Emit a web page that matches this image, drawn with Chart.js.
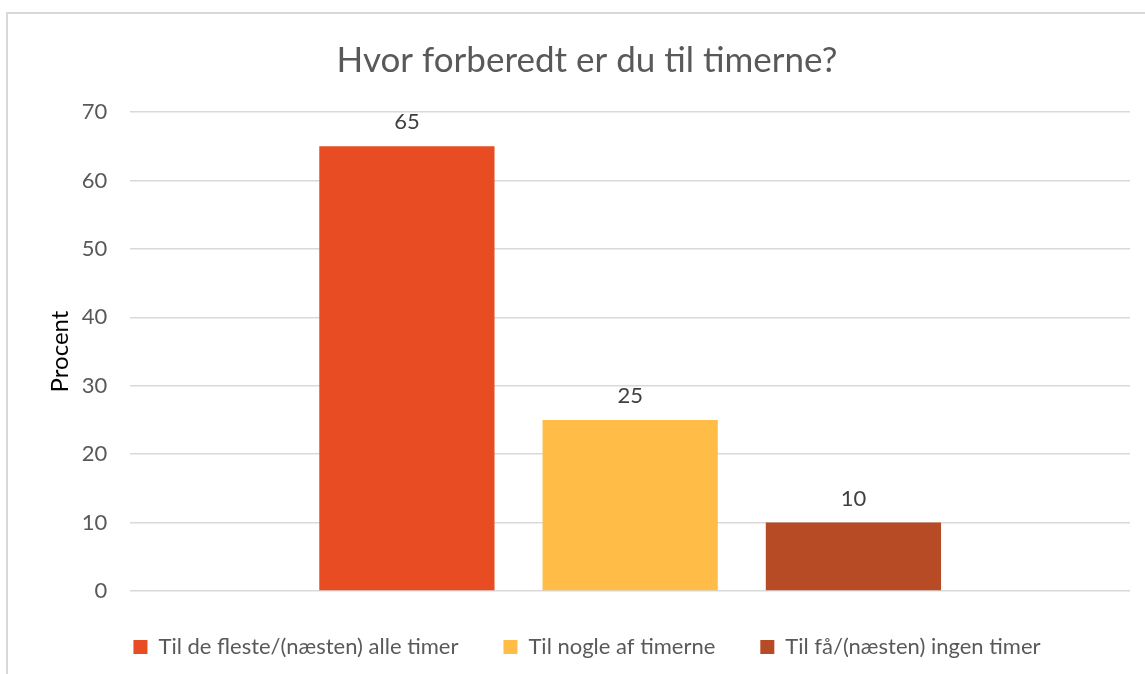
<!DOCTYPE html>
<html>
<head>
<meta charset="utf-8">
<script src="https://cdn.jsdelivr.net/npm/chart.js@4.4.1/dist/chart.umd.min.js"></script>
<style>
  html, body { margin: 0; padding: 0; background: #fff; }
  .wrap { position: relative; width: 1145px; height: 674px; overflow: hidden; }
  .frame { position: absolute; left: 6px; top: 12px; width: 1200px; height: 700px; border-left: 2px solid #d9d9d9; border-top: 2px solid #d9d9d9; }
  canvas { position: absolute; left: 0; top: 0; }
</style>
</head>
<body>
<div class="wrap">
  <div class="frame"></div>
  <canvas id="chart" width="1145" height="674"></canvas>
</div>
<script>
const chartTitle = 'Hvor forberedt er du til timerne?';
const yAxisTitle = 'Procent';
const categories = [''];
const seriesNames = ['Til de fleste/(næsten) alle timer', 'Til nogle af timerne', 'Til få/(næsten) ingen timer'];
const seriesColors = ['#E84C22', '#FFBD47', '#B74B26'];
const allTimer = [65];
const nogleTimer = [25];
const ingenTimer = [10];
const yTicks = [0, 10, 20, 30, 40, 50, 60, 70];

const fontFamily = 'Lato, "Open Sans", sans-serif';

// values written above each bar
const valueLabels = {
  id: 'valueLabels',
  afterDatasetsDraw(chart) {
    const ctx = chart.ctx;
    ctx.save();
    ctx.font = '22px ' + fontFamily;
    ctx.fillStyle = '#404040';
    ctx.textAlign = 'center';
    ctx.textBaseline = 'middle';
    chart.data.datasets.forEach((ds, i) => {
      chart.getDatasetMeta(i).data.forEach((bar, j) => {
        ctx.fillText(ds.data[j], bar.x, bar.y - 24);
      });
    });
    ctx.restore();
  }
};

const series = [allTimer, nogleTimer, ingenTimer];

new Chart(document.getElementById('chart'), {
  type: 'bar',
  data: {
    labels: categories,
    datasets: series.map((vals, i) => ({
      label: seriesNames[i],
      data: vals,
      backgroundColor: seriesColors[i],
      categoryPercentage: 0.67,
      barPercentage: 0.785
    }))
  },
  options: {
    responsive: false,
    animation: false,
    layout: { padding: { left: 44, right: 15, top: 0, bottom: 6 } },
    plugins: {
      title: {
        display: true,
        text: chartTitle,
        color: '#595959',
        font: { family: fontFamily, size: 35, weight: 'normal' },
        padding: { top: 40, bottom: 30 }
      },
      legend: {
        position: 'bottom',
        labels: {
          boxWidth: 14,
          boxHeight: 14,
          padding: 45,
          color: '#595959',
          font: { family: fontFamily, size: 22 }
        }
      },
      tooltip: { enabled: false }
    },
    scales: {
      x: { display: false },
      y: {
        min: 0,
        max: 70,
        afterBuildTicks(scale) { scale.ticks = yTicks.map(v => ({ value: v })); },
        ticks: { color: '#595959', padding: 23, font: { family: fontFamily, size: 22 } },
        grid: { color: '#d9d9d9', lineWidth: 1.5, drawTicks: false },
        border: { display: false },
        title: {
          display: true,
          text: yAxisTitle,
          color: '#000',
          font: { family: fontFamily, size: 24 },
          padding: { top: 2, bottom: -16 }
        }
      }
    }
  },
  plugins: [valueLabels]
});
</script>
</body>
</html>
